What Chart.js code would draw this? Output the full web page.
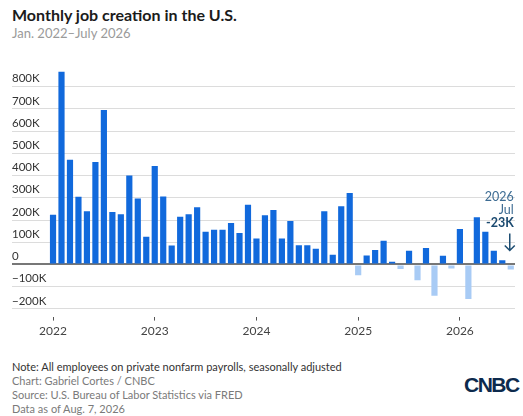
<!DOCTYPE html>
<html>
<head>
<meta charset="utf-8">
<script src="https://cdn.jsdelivr.net/npm/chart.js@4"></script>
<style>
  html, body { margin: 0; padding: 0; background: #fff; }
  body { width: 523px; height: 416px; position: relative; overflow: hidden; font-family: Lato, "Open Sans", sans-serif; }
  .title { position: absolute; left: 12px; top: 5px; font-size: 16px; font-weight: 700; color: #1b1b1b; }
  .subtitle { position: absolute; left: 12px; top: 25px; font-size: 13px; color: #9a9a9a; }
  #chartWrap { position: absolute; left: 0; top: 60px; width: 523px; height: 290px; }
  .foot { position: absolute; left: 12px; font-size: 11px; color: #7a7a7a; }
  .note { color: #333; }
  .logo { position: absolute; left: 464px; top: 373px; font-family: "Liberation Sans", Arial, sans-serif; font-weight: 900; font-size: 21px; letter-spacing: -1.5px; color: #0d2a4d; }
</style>
</head>
<body>
<div class="title">Monthly job creation in the U.S.</div>
<div class="subtitle">Jan. 2022–July 2026</div>
<div id="chartWrap"><canvas id="jobsChart" width="523" height="290"></canvas></div>
<div class="foot note" style="top:360px">Note: All employees on private nonfarm payrolls, seasonally adjusted</div>
<div class="foot" style="top:374px">Chart: Gabriel Cortes / CNBC</div>
<div class="foot" style="top:388px">Source: U.S. Bureau of Labor Statistics via FRED</div>
<div class="foot" style="top:402px">Data as of Aug. 7, 2026</div>
<div class="logo">CNBC</div>

<script>
// Monthly private payroll change, thousands, Jan 2022 - Jul 2026
const months = [
    '2022-01','2022-02','2022-03','2022-04','2022-05','2022-06','2022-07','2022-08','2022-09','2022-10','2022-11','2022-12',
    '2023-01','2023-02','2023-03','2023-04','2023-05','2023-06','2023-07','2023-08','2023-09','2023-10','2023-11','2023-12',
    '2024-01','2024-02','2024-03','2024-04','2024-05','2024-06','2024-07','2024-08','2024-09','2024-10','2024-11','2024-12',
    '2025-01','2025-02','2025-03','2025-04','2025-05','2025-06','2025-07','2025-08','2025-09','2025-10','2025-11','2025-12',
    '2026-01','2026-02','2026-03','2026-04','2026-05','2026-06','2026-07'
];
const jobs = [
    224, 868, 471, 305, 239, 461, 695, 236, 226, 400, 297, 125,
    443, 306, 85, 215, 226, 257, 147, 156, 156, 186, 141, 269,
    117, 221, 245, 117, 195, 86, 86, 70, 239, 43, 262, 322,
    -49, 40, 65, 107, 12, -21, 62, -71, 74, -141, 39, -18,
    159, -156, 212, 147, 61, 19, -23
];

const yTicks = [-200, -100, 0, 100, 200, 300, 400, 500, 600, 700, 800];
const yTickLabels = ['\u2212200K', '\u2212100K', '0', '100K', '200K', '300K', '400K', '500K', '600K', '700K', '800K'];
const xTicks = [0, 12, 24, 36, 48];
const xTickLabels = ['2022', '2023', '2024', '2025', '2026'];

const lastLabel = ['2026', 'Jul', '-23K'];

// annotation over the latest month
const lastMonthNote = {
    id: 'lastMonthNote',
    afterDatasetsDraw(chart) {
        const meta = chart.getDatasetMeta(0);
        const bar = meta.data[meta.data.length - 1];
        const zero = chart.scales.y.getPixelForValue(0);
        const ctx = chart.ctx;
        const right = bar.x + 3;
        ctx.save();
        ctx.textAlign = 'right';
        ctx.textBaseline = 'middle';
        ctx.font = '12.5px Lato, sans-serif';
        ctx.fillStyle = '#3d6c93';
        ctx.fillText(lastLabel[0], right, zero - 67);
        ctx.fillText(lastLabel[1], right, zero - 54);
        ctx.font = 'bold 12.5px Lato, sans-serif';
        ctx.fillStyle = '#1b4a70';
        ctx.fillText(lastLabel[2], right, zero - 41);
        // arrow
        const ax = bar.x - 1;
        ctx.strokeStyle = '#1d4d72';
        ctx.lineWidth = 1.5;
        ctx.beginPath();
        ctx.moveTo(ax, zero - 31);
        ctx.lineTo(ax, zero - 14);
        ctx.moveTo(ax - 5, zero - 19);
        ctx.lineTo(ax, zero - 14);
        ctx.lineTo(ax + 5, zero - 19);
        ctx.stroke();
        ctx.restore();
    }
};

const ctx = document.getElementById('jobsChart').getContext('2d');
new Chart(ctx, {
    type: 'bar',
    data: {
        datasets: [{
            data: jobs.map((v, i) => ({ x: i, y: v })),
            backgroundColor: jobs.map(v => v < 0 ? '#a8cbf5' : '#1169dc'),
            borderWidth: 0,
            barPercentage: 0.73,
            categoryPercentage: 1
        }]
    },
    options: {
        responsive: false,
        animation: false,
        layout: { padding: { left: 12, right: 8, top: 9, bottom: 9 } },
        plugins: {
            legend: { display: false },
            tooltip: { enabled: false }
        },
        scales: {
            x: {
                type: 'linear',
                offset: false,
                min: -4.84,
                max: 54.5,
                afterBuildTicks: scale => { scale.ticks = xTicks.map(v => ({ value: v })); },
                ticks: {
                    callback: (value) => xTickLabels[xTicks.indexOf(value)],
                    font: { family: 'Lato, sans-serif', size: 12 },
                    color: '#444',
                    padding: 3,
                    maxRotation: 0
                },
                grid: { offset: false, drawOnChartArea: false, drawTicks: true, tickLength: 4, color: '#555' },
                border: { display: false }
            },
            y: {
                min: -235,
                max: 880,
                afterBuildTicks: scale => { scale.ticks = yTicks.map(v => ({ value: v })); },
                ticks: {
                    mirror: true,
                    padding: 0,
                    labelOffset: -8,
                    callback: (value) => yTickLabels[yTicks.indexOf(value)],
                    font: { family: 'Lato, sans-serif', size: 11.5 },
                    color: '#333'
                },
                grid: {
                    drawTicks: false,
                    color: c => c.tick && c.tick.value === 0 ? '#777' : '#dcdcdc',
                    lineWidth: c => c.tick && c.tick.value === 0 ? 2 : 1
                },
                border: { display: false }
            }
        }
    },
    plugins: [lastMonthNote]
});
</script>
</body>
</html>
